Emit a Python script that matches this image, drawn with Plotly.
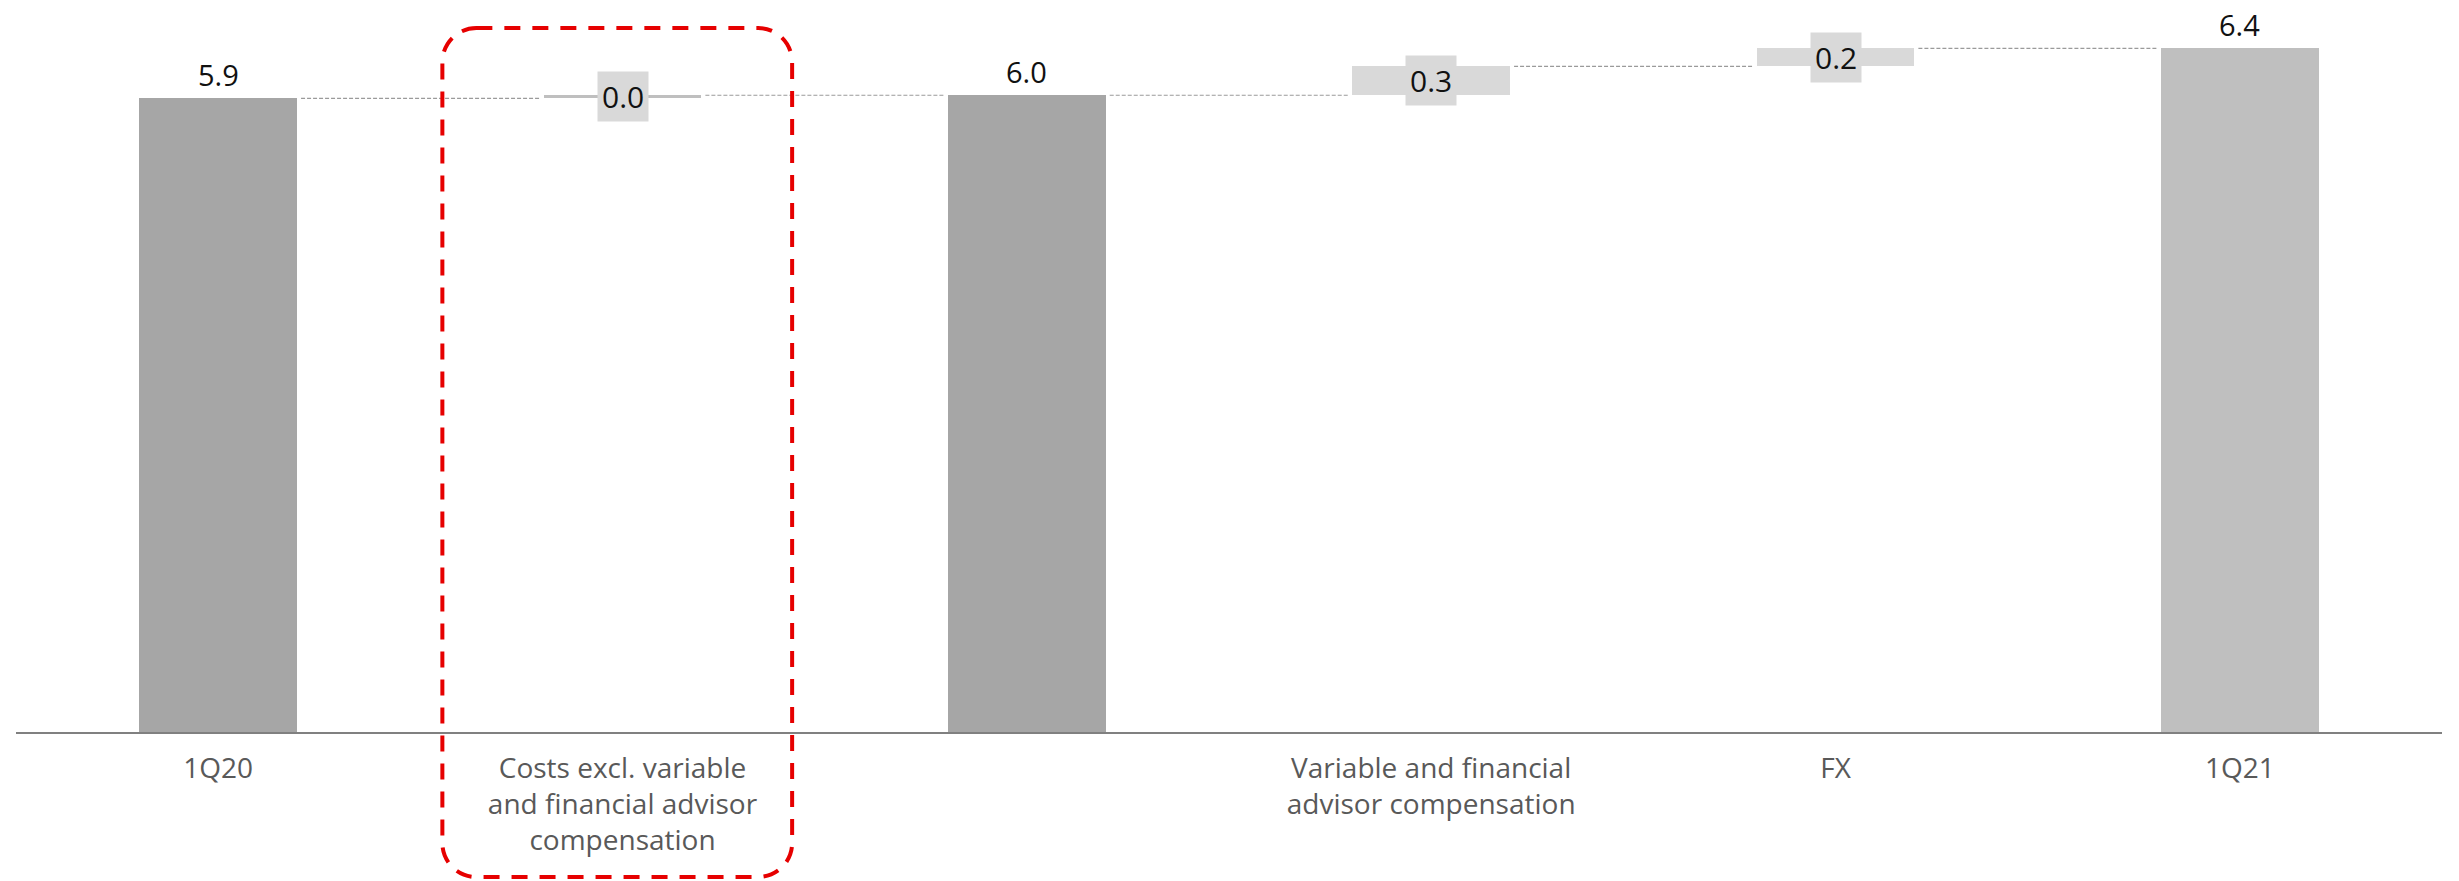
import plotly.graph_objects as go

# ---- data ----
categories = ["1Q20",
              "Costs excl. variable<br>and financial advisor<br>compensation",
              "",
              "Variable and financial<br>advisor compensation",
              "FX",
              "1Q21"]
kinds = ["total", "delta", "total", "delta", "delta", "total"]
values = [5.94, 0.03, 5.97, 0.27, 0.17, 6.41]
value_labels = ["5.9", "0.0", "6.0", "0.3", "0.2", "6.4"]
bar_colors = ["#a6a6a6", "#bfbfbf", "#a6a6a6", "#d9d9d9", "#d9d9d9", "#bfbfbf"]

W, H = 2459, 881
ML, MR, MT, MB = 16, 17, 0, 149
BW = 0.39
YMAX = 6.863
FONT = "Open Sans"

# compute bases
bases, tops = [], []
running = 0.0
for k, v in zip(kinds, values):
    if k == "total":
        bases.append(0.0)
        running = v
    else:
        bases.append(running)
        running = running + v
    tops.append(running)

xs = list(range(len(categories)))

fig = go.Figure()
fig.add_trace(go.Bar(x=xs, y=[v for v in values], base=bases, width=BW,
                     marker=dict(color=bar_colors, line=dict(width=0)),
                     hoverinfo="skip", showlegend=False))

# connectors
cx, cy = [], []
for i in range(len(xs) - 1):
    cx += [xs[i] + BW / 2 + 0.01, xs[i + 1] - BW / 2 - 0.01, None]
    cy += [tops[i], tops[i], None]
fig.add_trace(go.Scatter(x=cx, y=cy, mode="lines",
                         line=dict(color="#9a9a9a", width=1.2, dash="4px,2px"),
                         hoverinfo="skip", showlegend=False))

annotations = []
for i, (k, lab) in enumerate(zip(kinds, value_labels)):
    if k == "total":
        annotations.append(dict(x=xs[i], y=tops[i], xref="x", yref="y", text=lab,
                                showarrow=False, yanchor="bottom", yshift=2,
                                font=dict(family=FONT, size=29, color="#111111")))
    else:
        annotations.append(dict(x=xs[i], y=bases[i] + values[i] / 2, xref="x", yref="y",
                                text=lab, showarrow=False, yanchor="middle",
                                bgcolor="#d9d9d9", borderpad=4,
                                font=dict(family=FONT, size=30, color="#111111")))

# red dashed rounded highlight around category 1
plot_w = W - ML - MR
plot_h = H - MT - MB
hl_i, hl_off, hl_hw = 1, -0.013, 0.4325
px0 = ML + (hl_i + hl_off + 0.5 - hl_hw) / len(xs) * plot_w
px1 = ML + (hl_i + hl_off + 0.5 + hl_hw) / len(xs) * plot_w
py0, py1, r = 28, 877, 34
kk = 0.5523 * r


def P(px, py):
    return f"{(px - ML) / plot_w:.5f},{(MT + plot_h - py) / plot_h:.5f}"


path = (f"M {P(px0 + r, py0)} L {P(px1 - r, py0)} "
        f"C {P(px1 - r + kk, py0)} {P(px1, py0 + r - kk)} {P(px1, py0 + r)} "
        f"L {P(px1, py1 - r)} "
        f"C {P(px1, py1 - r + kk)} {P(px1 - r + kk, py1)} {P(px1 - r, py1)} "
        f"L {P(px0 + r, py1)} "
        f"C {P(px0 + r - kk, py1)} {P(px0, py1 - r + kk)} {P(px0, py1 - r)} "
        f"L {P(px0, py0 + r)} "
        f"C {P(px0, py0 + r - kk)} {P(px0 + r - kk, py0)} {P(px0 + r, py0)} Z")

fig.update_layout(
    width=W, height=H,
    margin=dict(l=ML, r=MR, t=MT, b=MB, pad=0),
    plot_bgcolor="white", paper_bgcolor="white",
    font=dict(family=FONT),
    bargap=0,
    xaxis=dict(range=[-0.5, len(xs) - 0.5], tickvals=xs, ticktext=categories,
               showline=True, linecolor="#808080", linewidth=2,
               showgrid=False, zeroline=False, ticks="", ticklen=0,
               ticklabelstandoff=10,
               tickfont=dict(family=FONT, size=28, color="#595959")),
    yaxis=dict(range=[0, YMAX], visible=False, showgrid=False, zeroline=False),
    annotations=annotations,
    shapes=[dict(type="path", xref="paper", yref="paper", path=path,
                 line=dict(color="#e60000", width=4, dash="16px,12px"),
                 fillcolor="rgba(0,0,0,0)", layer="above")],
)

fig.write_html("out.html")
